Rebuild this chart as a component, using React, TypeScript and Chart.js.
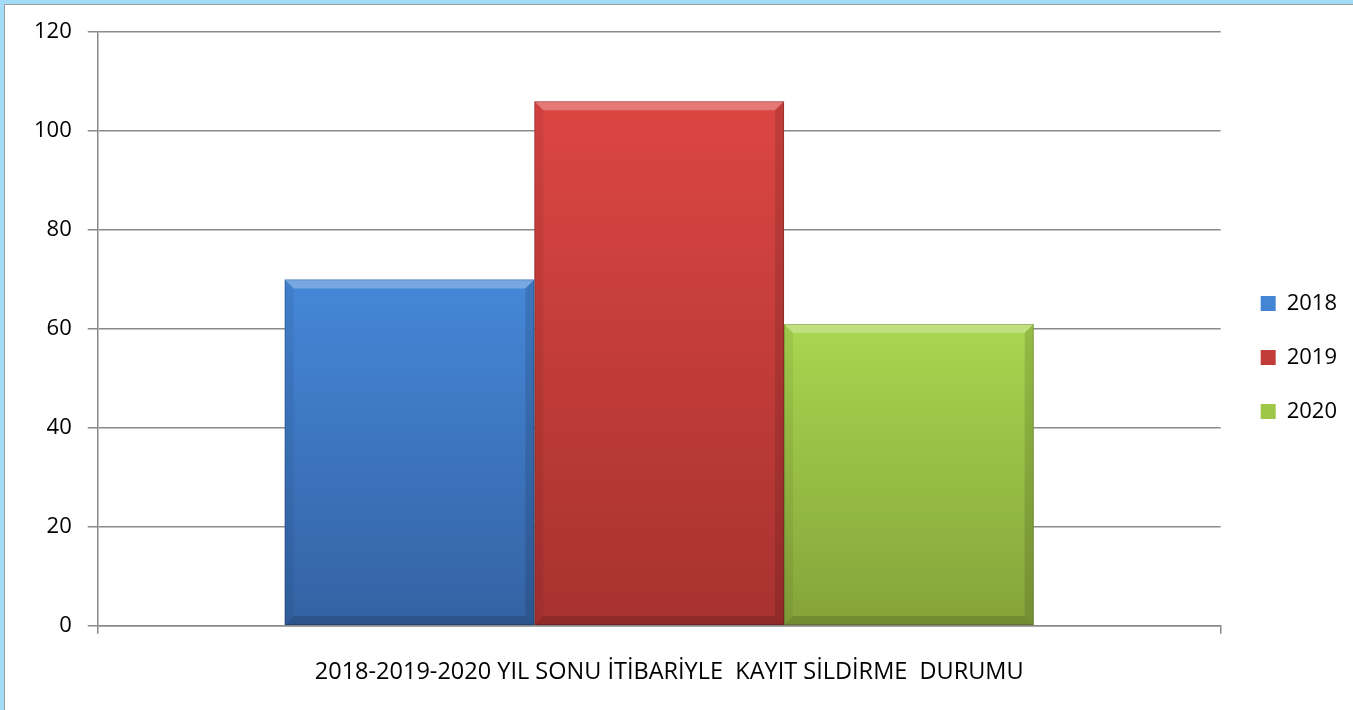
import React, { useEffect, useRef } from "react";
import { Chart, registerables } from "chart.js";

Chart.register(...registerables);

const categories = ["2018-2019-2020 YIL SONU İTİBARİYLE  KAYIT SİLDİRME  DURUMU"];
const seriesNames = ["2018", "2019", "2020"];
const values2018 = [70];
const values2019 = [106];
const values2020 = [61];
const yTickValues = [0, 20, 40, 60, 80, 100, 120];

const seriesValues = [values2018, values2019, values2020];
const seriesColors = [
  { solid: "#3f7bc8", top: "#4587d8", bottom: "#3462a3" },
  { solid: "#cc3f3c", top: "#dc4643", bottom: "#a7322f" },
  { solid: "#97bf45", top: "#a9d64f", bottom: "#84a33a" },
];

const FONT = "'Open Sans', sans-serif";

const bevelPlugin = {
  id: "bevel",
  afterDatasetsDraw(chart: any) {
    const ctx = chart.ctx;
    ctx.save();
    chart.data.datasets.forEach((_: any, di: number) => {
      const meta = chart.getDatasetMeta(di);
      meta.data.forEach((el: any) => {
        const p = el.getProps(["x", "y", "base", "width"], true);
        const l = p.x - p.width / 2;
        const r = p.x + p.width / 2;
        const t = Math.min(p.y, p.base);
        const b = Math.max(p.y, p.base);
        const s = 9;
        ctx.fillStyle = "rgba(255,255,255,0.28)";
        ctx.beginPath();
        ctx.moveTo(l, t);
        ctx.lineTo(r, t);
        ctx.lineTo(r - s, t + s);
        ctx.lineTo(l + s, t + s);
        ctx.closePath();
        ctx.fill();
        ctx.fillStyle = "rgba(0,0,0,0.06)";
        ctx.beginPath();
        ctx.moveTo(l, t);
        ctx.lineTo(l + s, t + s);
        ctx.lineTo(l + s, b - s);
        ctx.lineTo(l, b);
        ctx.closePath();
        ctx.fill();
        ctx.fillStyle = "rgba(0,0,0,0.12)";
        ctx.beginPath();
        ctx.moveTo(r, t);
        ctx.lineTo(r - s, t + s);
        ctx.lineTo(r - s, b - s);
        ctx.lineTo(r, b);
        ctx.closePath();
        ctx.fill();
        ctx.fillStyle = "rgba(0,0,0,0.14)";
        ctx.beginPath();
        ctx.moveTo(l, b);
        ctx.lineTo(l + s, b - s);
        ctx.lineTo(r - s, b - s);
        ctx.lineTo(r, b);
        ctx.closePath();
        ctx.fill();
        ctx.strokeStyle = "rgba(0,0,0,0.18)";
        ctx.lineWidth = 1;
        ctx.strokeRect(l + 0.5, t + 0.5, r - l - 1, b - t - 1);
      });
    });
    ctx.restore();
  },
};

export default function App() {
  const canvasRef = useRef<HTMLCanvasElement | null>(null);

  useEffect(() => {
    const canvas = canvasRef.current;
    if (!canvas) return;

    const datasets = seriesNames.map((name, i) => ({
      label: name,
      data: seriesValues[i],
      yAxisID: "y",
      backgroundColor: (c: any) => {
        const col = seriesColors[i];
        if (c.type !== "data" || !c.chart.chartArea) return col.solid;
        const ys = c.chart.scales.y;
        const top = ys.getPixelForValue(c.raw);
        const base = ys.getPixelForValue(0);
        const g = c.chart.ctx.createLinearGradient(0, top, 0, base);
        g.addColorStop(0, col.top);
        g.addColorStop(1, col.bottom);
        return g;
      },
      borderWidth: 0,
      barPercentage: 1,
      categoryPercentage: 0.667,
    }));

    const chart = new Chart(canvas, {
      type: "bar",
      data: { labels: categories, datasets },
      options: {
        animation: false,
        responsive: false,
        devicePixelRatio: 1,
        layout: { padding: { top: 0, left: 13, right: 6, bottom: 0 } },
        plugins: {
          tooltip: { enabled: false },
          legend: {
            position: "right",
            align: "center",
            labels: {
              boxWidth: 15,
              boxHeight: 15,
              padding: 32,
              color: "#000",
              font: { family: FONT, size: 22 },
            },
          },
        },
        scales: {
          x: {
            offset: true,
            grid: {
              display: true,
              drawOnChartArea: false,
              drawTicks: true,
              tickLength: 8,
              offset: true,
              color: "#8a8a8a",
              lineWidth: 1.5,
            },
            border: { display: true, color: "#8a8a8a", width: 1.5 },
            ticks: {
              color: "#000",
              padding: 24,
              labelOffset: 10,
              font: { family: FONT, size: 23.5 },
              maxRotation: 0,
            },
          },
          y: {
            min: 0,
            max: 120,
            position: "left",
            afterBuildTicks: (s: any) => {
              s.ticks = yTickValues.map((v) => ({ value: v }));
            },
            grid: {
              color: "#8a8a8a",
              lineWidth: 1.5,
              drawTicks: true,
              tickLength: 10,
            },
            border: { display: true, color: "#8a8a8a", width: 1.5 },
            ticks: {
              color: "#000",
              padding: 16,
              font: { family: FONT, size: 22, lineHeight: 1 },
            },
          },
          gap: {
            type: "linear",
            position: "right",
            display: true,
            grid: { display: false },
            border: { display: false },
            ticks: { display: false },
            afterFit: (s: any) => {
              s.width = 8;
            },
          },
        },
      } as any,
      plugins: [bevelPlugin],
    });

    return () => chart.destroy();
  }, []);

  return (
    <div
      style={{
        position: "fixed",
        top: 0,
        left: 0,
        width: 1353,
        height: 710,
        boxSizing: "border-box",
        background: "#fff",
        borderTop: "4px solid #a3dcf8",
        borderLeft: "4px solid #a3dcf8",
      }}
    >
      <div
        style={{
          width: "100%",
          height: "100%",
          boxSizing: "border-box",
          borderTop: "1px solid #9c9c9c",
          borderLeft: "1px solid #9c9c9c",
        }}
      >
        <canvas ref={canvasRef} width={1348} height={705} style={{ display: "block" }} />
      </div>
    </div>
  );
}
